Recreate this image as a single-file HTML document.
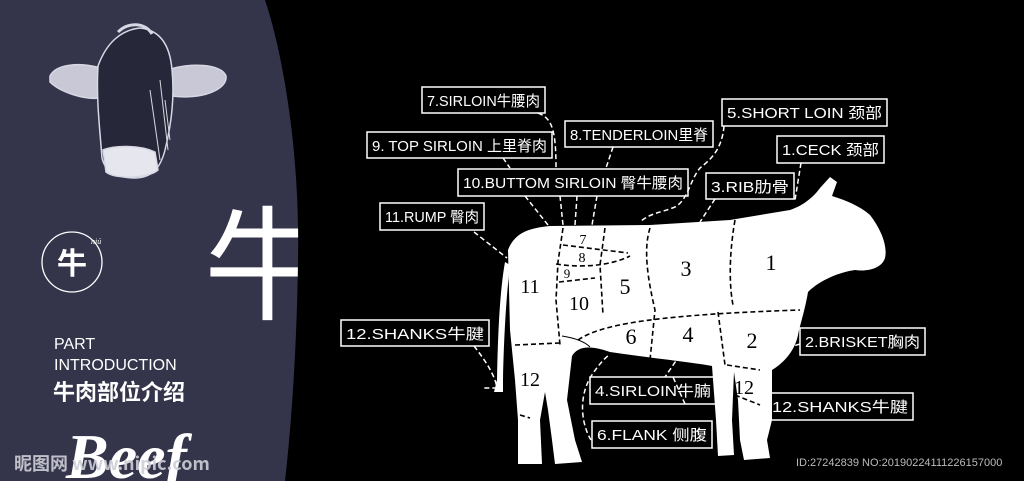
<!DOCTYPE html>
<html><head><meta charset="utf-8"><style>
html,body{margin:0;padding:0;background:#000;}
body{width:1024px;height:481px;overflow:hidden;position:relative;font-family:"Liberation Sans","Noto Sans CJK SC",sans-serif;}
svg{position:absolute;left:0;top:0;}
</style></head><body>
<svg width="1024" height="481" viewBox="0 0 1024 481" xmlns="http://www.w3.org/2000/svg">
<defs><clipPath id="pc"><path d="M0 0 L265 0 C285 60 300 160 298 260 C297 340 292 420 285 481 L0 481 Z"/></clipPath></defs>
<rect width="1024" height="481" fill="#000"/>
<path d="M0 0 L265 0 C285 60 300 160 298 260 C297 340 292 420 285 481 L0 481 Z" fill="#34344b"/>
<g fill="none" stroke="#d8d8e4" stroke-width="1.5">
<path d="M50 76 C56 64 80 62 100 68 C108 74 106 94 100 98 C84 100 60 92 50 82 Z" fill="#c8c8d6"/>
<path d="M168 70 C190 62 222 64 226 76 C228 90 200 100 172 96 Z" fill="#c8c8d6"/>
<path d="M98 66 C106 44 120 30 140 28 C160 30 170 45 172 70 C175 100 170 130 165 150 C160 170 150 178 135 178 C118 178 105 172 102 158 C100 130 96 100 98 66 Z" fill="#27273a"/>
<path d="M103 150 C115 145 140 145 155 152 L158 170 C150 178 115 180 106 172 Z" fill="#e6e6ee"/>
<path d="M118 32 C128 22 145 22 152 34" stroke-width="3"/>
<path d="M160 80 L168 150 M150 90 L160 160 M165 100 L170 140" stroke-width="1"/>
</g>
<g clip-path="url(#pc)">
<text x="204" y="310" font-family="'Noto Sans CJK SC',sans-serif" font-size="124" fill="#fff">牛</text>
</g>
<circle cx="72" cy="262" r="30" fill="none" stroke="#fff" stroke-width="1.3"/>
<text x="57" y="274" font-family="'Noto Sans CJK SC',sans-serif" font-size="30" fill="#fff" font-weight="bold">牛</text>
<text x="91" y="244" font-family="'Liberation Serif',serif" font-size="8" font-style="italic" fill="#fff">niú</text>
<text x="54" y="349" font-size="16" fill="#fff">PART</text>
<text x="54" y="370" font-size="16" fill="#fff">INTRODUCTION</text>
<text x="53" y="400" font-family="'Noto Sans CJK SC',sans-serif" font-size="22" font-weight="bold" fill="#fff">牛肉部位介绍</text>
<text x="66" y="478" font-family="'Liberation Serif',serif" font-size="64" font-style="italic" font-weight="bold" fill="#fff">Beef</text>
<text x="14" y="470" font-family="'Noto Sans CJK SC',sans-serif" font-size="18" font-weight="bold" fill="#cfcfd8" opacity="0.9">昵图网 www.nipic.com</text>

<path d="M508 250 C515 232 530 228 550 226 L650 225 L730 220 L790 210 C805 205 815 195 820 188 L830 177 L837 182 L832 196 C845 200 860 206 870 215 C880 228 888 245 885 258 C882 268 868 272 855 270 C840 272 820 280 808 292 C805 310 800 325 798 335 C795 350 785 362 772 370 L772 420 L767 440 L770 458 L744 460 L740 440 L738 400 L734 372 L732 420 L734 455 L718 456 L716 420 L712 366 C690 362 650 358 610 352 C590 345 578 346 572 356 L567 400 L575 440 L582 462 L555 464 L552 440 L548 410 L545 392 L540 420 L542 464 L518 464 L518 420 L515 380 L510 330 Z" fill="#fff"/>
<path d="M505 262 C500 290 498 330 497 380 L494 392 L503 392 L503 380 C504 330 507 290 510 265 Z" fill="#fff"/>

<g fill="none" stroke="#000" stroke-width="1.6" stroke-dasharray="5,3">
<path d="M563 245 L628 253"/>
<path d="M556 264 C580 268 610 266 630 256"/>
<path d="M559 282 L595 278"/>
<path d="M563 228 L558 262 L556 300 L560 345"/>
<path d="M605 228 L600 265 L603 315"/>
<path d="M650 228 C643 250 648 280 655 310 L650 360"/>
<path d="M735 220 C728 260 730 290 733 305"/>
<path d="M578 340 C600 325 650 315 800 310"/>
<path d="M718 312 L725 365"/>
<path d="M727 365 L760 370 M735 395 L760 405"/>
<path d="M515 345 L560 343"/>
<path d="M520 415 L530 418"/>
<path d="M562 336 C575 338 585 342 590 347" stroke-dasharray="none" stroke-width="1"/>
</g>
<g font-family="'Liberation Serif',serif" fill="#000" text-anchor="middle">
<text x="583" y="244" font-size="14">7</text>
<text x="582" y="262" font-size="14">8</text>
<text x="567" y="278" font-size="13">9</text>
<text x="579" y="310" font-size="20">10</text>
<text x="530" y="293" font-size="20">11</text>
<text x="625" y="294" font-size="22">5</text>
<text x="686" y="276" font-size="22">3</text>
<text x="771" y="270" font-size="22">1</text>
<text x="631" y="344" font-size="22">6</text>
<text x="688" y="342" font-size="22">4</text>
<text x="752" y="348" font-size="22">2</text>
<text x="530" y="386" font-size="20">12</text>
<text x="744" y="394" font-size="20">12</text>
</g>

<g fill="none" stroke="#fff" stroke-width="1.5" stroke-dasharray="5,3">
<path d="M474 232 L507 258"/>
<path d="M525 196 L548 225 M560 196 L563 225 M577 196 L575 225 M597 196 L592 225"/>
<path d="M503 158 L510 168"/>
<path d="M538 113 C552 118 556 130 556 168"/>
<path d="M613 147 L606 168"/>
<path d="M724 126 C722 150 710 160 700 168 C690 180 688 200 675 207 C660 213 650 213 640 222"/>
<path d="M715 199 L700 222"/>
<path d="M801 163 L795 200"/>
<path d="M474 346 C485 360 495 375 497 388 L482 388"/>
<path d="M800 344 L790 347"/>
<path d="M685 404 L673 377 M680 355 L665 377"/>
<path d="M770 398 L758 384"/>
<path d="M591 440 C582 425 578 400 590 378 C598 365 605 358 610 354"/>
</g>

<g fill="none" stroke="#fff" stroke-width="1.5">
<rect x="422" y="87" width="123" height="26"/>
<rect x="722" y="99" width="165" height="27"/>
<rect x="367" y="132" width="185" height="26"/>
<rect x="565" y="121" width="148" height="26"/>
<rect x="777" y="136" width="107" height="27"/>
<rect x="458" y="169" width="230" height="27"/>
<rect x="706" y="173" width="88" height="26"/>
<rect x="380" y="203" width="104" height="27"/>
<rect x="341" y="320" width="148" height="26"/>
<rect x="800" y="328" width="125" height="27"/>
<rect x="590" y="377" width="126" height="27"/>
<rect x="767" y="393" width="146" height="27"/>
<rect x="592" y="421" width="120" height="27"/>
</g>
<g fill="#fff" font-size="15" font-family="'Liberation Sans','Noto Sans CJK SC',sans-serif">
<text x="427" y="106" textLength="113" lengthAdjust="spacingAndGlyphs">7.SIRLOIN牛腰肉</text>
<text x="727" y="118" textLength="155" lengthAdjust="spacingAndGlyphs">5.SHORT LOIN 颈部</text>
<text x="372" y="151" textLength="175" lengthAdjust="spacingAndGlyphs">9. TOP SIRLOIN 上里脊肉</text>
<text x="570" y="140" textLength="138" lengthAdjust="spacingAndGlyphs">8.TENDERLOIN里脊</text>
<text x="782" y="155" textLength="97" lengthAdjust="spacingAndGlyphs">1.CECK 颈部</text>
<text x="463" y="188" textLength="220" lengthAdjust="spacingAndGlyphs">10.BUTTOM SIRLOIN 臀牛腰肉</text>
<text x="711" y="192" textLength="78" lengthAdjust="spacingAndGlyphs">3.RIB肋骨</text>
<text x="385" y="222" textLength="94" lengthAdjust="spacingAndGlyphs">11.RUMP 臀肉</text>
<text x="346" y="339" textLength="138" lengthAdjust="spacingAndGlyphs">12.SHANKS牛腱</text>
<text x="805" y="347" textLength="115" lengthAdjust="spacingAndGlyphs">2.BRISKET胸肉</text>
<text x="595" y="396" textLength="116" lengthAdjust="spacingAndGlyphs">4.SIRLOIN牛腩</text>
<text x="772" y="412" textLength="136" lengthAdjust="spacingAndGlyphs">12.SHANKS牛腱</text>
<text x="597" y="440" textLength="110" lengthAdjust="spacingAndGlyphs">6.FLANK 侧腹</text>
</g>
<text x="796" y="466" font-size="11" fill="#bbb">ID:27242839 NO:20190224111226157000</text>
</svg>
</body></html>
